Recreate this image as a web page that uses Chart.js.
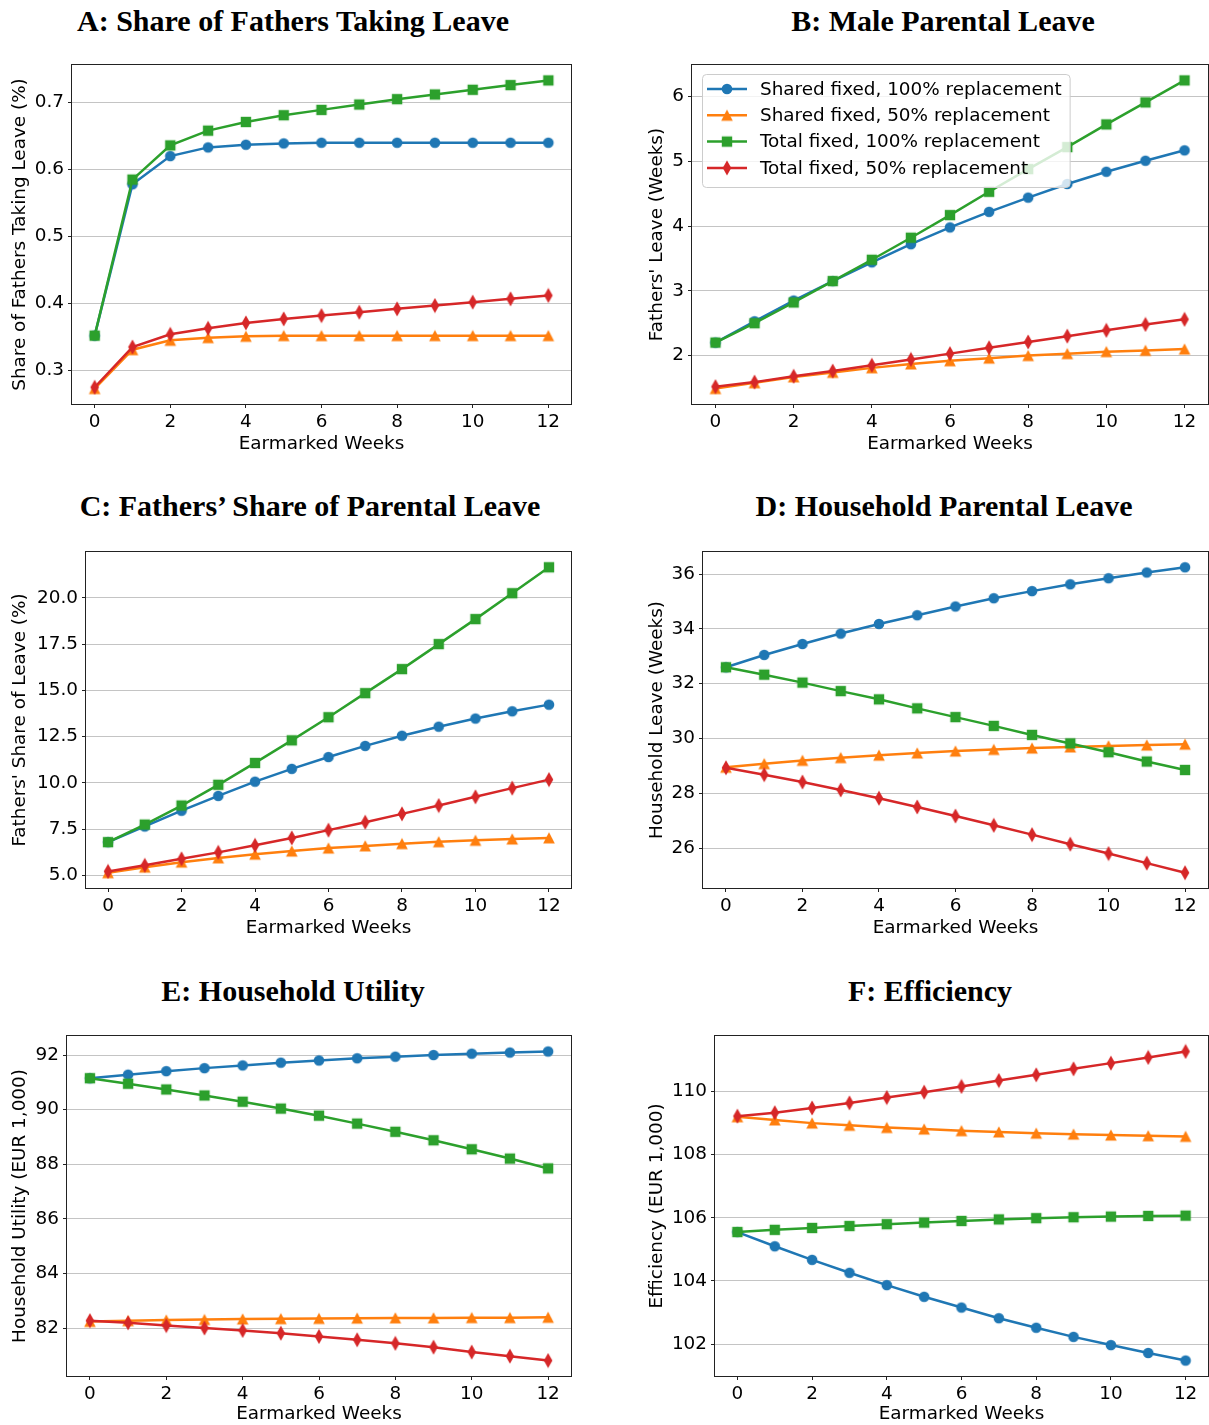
<!DOCTYPE html>
<html>
<head>
<meta charset="utf-8">
<script src="https://cdn.jsdelivr.net/npm/chart.js@4.4.0/dist/chart.umd.min.js"></script>
<style>
  body { margin: 0; background: #fff; width: 1209px; height: 1425px; position: relative; overflow: hidden; }
  canvas { position: absolute; }
  .title { position: absolute; font-family: "Liberation Serif", serif; font-weight: bold; font-size: 30px;
           white-space: nowrap; transform: translate(-50%, -50%); line-height: 1; color: #000; }
</style>
</head>
<body>
<script>
const weeks = [0, 1, 2, 3, 4, 5, 6, 7, 8, 9, 10, 11, 12];
const seriesNames = ["Shared fixed, 100% replacement", "Shared fixed, 50% replacement",
                     "Total fixed, 100% replacement", "Total fixed, 50% replacement"];
const xTicks = [0, 2, 4, 6, 8, 10, 12];

// A: share of fathers taking leave
const takeShared100 = [0.352, 0.578, 0.620, 0.633, 0.637, 0.639, 0.640, 0.640, 0.640, 0.640, 0.640, 0.640, 0.640];
const takeShared50  = [0.273, 0.331, 0.345, 0.349, 0.351, 0.352, 0.352, 0.352, 0.352, 0.352, 0.352, 0.352, 0.352];
const takeTotal100  = [0.352, 0.585, 0.636, 0.658, 0.671, 0.681, 0.689, 0.697, 0.705, 0.712, 0.719, 0.726, 0.733];
const takeTotal50   = [0.275, 0.335, 0.354, 0.363, 0.371, 0.377, 0.382, 0.387, 0.392, 0.397, 0.402, 0.407, 0.412];

// B: fathers' leave in weeks
const leaveShared100 = [2.20, 2.53, 2.85, 3.15, 3.44, 3.72, 3.98, 4.22, 4.44, 4.65, 4.84, 5.01, 5.17];
const leaveShared50  = [1.49, 1.58, 1.67, 1.74, 1.81, 1.87, 1.92, 1.96, 2.00, 2.03, 2.06, 2.08, 2.10];
const leaveTotal100  = [2.20, 2.50, 2.82, 3.15, 3.48, 3.82, 4.17, 4.53, 4.88, 5.22, 5.57, 5.91, 6.25];
const leaveTotal50   = [1.52, 1.59, 1.68, 1.76, 1.85, 1.94, 2.03, 2.12, 2.21, 2.30, 2.39, 2.48, 2.56];

// C: fathers' share of leave (%)
const shareShared100 = [6.80, 7.65, 8.50, 9.30, 10.07, 10.76, 11.40, 12.00, 12.55, 13.04, 13.48, 13.87, 14.23];
const shareShared50  = [5.15, 5.45, 5.72, 5.95, 6.15, 6.32, 6.48, 6.60, 6.72, 6.82, 6.90, 6.97, 7.03];
const shareTotal100  = [6.80, 7.75, 8.78, 9.90, 11.08, 12.30, 13.55, 14.85, 16.15, 17.50, 18.85, 20.25, 21.65];
const shareTotal50   = [5.22, 5.55, 5.90, 6.25, 6.63, 7.03, 7.45, 7.88, 8.33, 8.78, 9.25, 9.72, 10.18];

// D: household leave in weeks
const hhShared100 = [32.60, 33.05, 33.45, 33.83, 34.18, 34.50, 34.82, 35.12, 35.38, 35.63, 35.85, 36.06, 36.25];
const hhShared50  = [28.95, 29.08, 29.20, 29.30, 29.39, 29.47, 29.54, 29.60, 29.65, 29.69, 29.73, 29.76, 29.79];
const hhTotal100  = [32.60, 32.33, 32.04, 31.73, 31.43, 31.10, 30.78, 30.46, 30.13, 29.82, 29.50, 29.16, 28.85];
const hhTotal50   = [28.93, 28.68, 28.41, 28.12, 27.82, 27.50, 27.17, 26.83, 26.49, 26.14, 25.80, 25.45, 25.10];

// E: household utility (EUR 1,000)
const utilShared100 = [91.15, 91.28, 91.41, 91.52, 91.62, 91.72, 91.80, 91.88, 91.94, 92.00, 92.05, 92.09, 92.13];
const utilShared50  = [82.25, 82.28, 82.30, 82.32, 82.34, 82.35, 82.36, 82.37, 82.38, 82.38, 82.39, 82.39, 82.40];
const utilTotal100  = [91.15, 90.95, 90.74, 90.52, 90.29, 90.04, 89.78, 89.49, 89.19, 88.88, 88.55, 88.21, 87.85];
const utilTotal50   = [82.28, 82.20, 82.10, 82.01, 81.92, 81.82, 81.70, 81.58, 81.45, 81.31, 81.13, 80.98, 80.82];

// F: efficiency (EUR 1,000)
const effShared100 = [105.55, 105.10, 104.67, 104.26, 103.87, 103.50, 103.16, 102.82, 102.52, 102.23, 101.97, 101.72, 101.48];
const effShared50  = [109.20, 109.10, 109.00, 108.93, 108.86, 108.81, 108.76, 108.72, 108.68, 108.65, 108.62, 108.60, 108.58];
const effTotal100  = [105.55, 105.62, 105.68, 105.74, 105.80, 105.85, 105.90, 105.95, 105.99, 106.02, 106.04, 106.06, 106.07];
const effTotal50   = [109.22, 109.33, 109.48, 109.64, 109.81, 109.98, 110.16, 110.35, 110.53, 110.72, 110.90, 111.08, 111.27];

const colors = ["#1f77b4", "#ff7f0e", "#2ca02c", "#d62728"];
const markerKinds = ["circle", "triangle", "square", "thinDiamond"];
const fontPx = 18.4;

// matplotlib-like markers as small canvases
function makeMarker(kind, color) {
  const c = document.createElement("canvas");
  c.width = 16; c.height = 16;
  const g = c.getContext("2d");
  g.fillStyle = color;
  g.beginPath();
  if (kind === "circle") g.arc(8, 8, 5.3, 0, Math.PI * 2);
  else if (kind === "square") g.rect(2.8, 2.8, 10.4, 10.4);
  else if (kind === "triangle") { g.moveTo(8, 2.2); g.lineTo(13.8, 13.6); g.lineTo(2.2, 13.6); g.closePath(); }
  else { g.moveTo(8, 0.6); g.lineTo(12.3, 8); g.lineTo(8, 15.4); g.lineTo(3.7, 8); g.closePath(); }
  g.fill();
  return c;
}
const markers = markerKinds.map((k, i) => makeMarker(k, colors[i]));

Chart.defaults.font.family = "'DejaVu Sans', sans-serif";
Chart.defaults.font.size = fontPx;
Chart.defaults.color = "#000";

// box around the plot area (all four spines)
const frame = {
  id: "frame",
  afterDraw(chart) {
    const { ctx, chartArea: a } = chart;
    ctx.save();
    ctx.strokeStyle = "#222";
    ctx.lineWidth = 1;
    ctx.strokeRect(a.left - 0.5, a.top - 0.5, a.right - a.left + 1, a.bottom - a.top + 1);
    ctx.restore();
  }
};

// legend box drawn inside the plot area, like matplotlib
const innerLegend = {
  id: "innerLegend",
  afterDraw(chart, args, opts) {
    if (!opts.show) return;
    const { ctx, chartArea: a } = chart;
    const sets = chart.data.datasets;
    ctx.save();
    ctx.font = fontPx + "px 'DejaVu Sans'";
    const textW = Math.max(...sets.map(d => ctx.measureText(d.label).width));
    const x0 = a.left + 10, y0 = a.top + 9;
    const w = 58 + textW + 8, h = 113, r = 4;
    ctx.beginPath();
    ctx.roundRect(x0 + 0.5, y0 + 0.5, w, h, r);
    ctx.fillStyle = "rgba(255,255,255,0.8)";
    ctx.fill();
    ctx.strokeStyle = "#cccccc";
    ctx.lineWidth = 1;
    ctx.stroke();
    sets.forEach((d, i) => {
      const cy = y0 + 15 + i * 26.3;
      ctx.strokeStyle = d.borderColor;
      ctx.lineWidth = 2.5;
      ctx.beginPath();
      ctx.moveTo(x0 + 5, cy);
      ctx.lineTo(x0 + 45, cy);
      ctx.stroke();
      ctx.drawImage(d.pointStyle, x0 + 25 - 8, cy - 8);
      ctx.fillStyle = "#000";
      ctx.textBaseline = "middle";
      ctx.fillText(d.label, x0 + 58, cy + 1);
    });
    ctx.restore();
  }
};

const panels = [
  { title: "A: Share of Fathers Taking Leave", yLabel: "Share of Fathers Taking Leave (%)",
    series: [takeShared100, takeShared50, takeTotal100, takeTotal50], step: 0.1, dec: 1,
    left: 9, top: 45, bottom: 455, plotLeft: 72, plotTop: 65, plotRight: 571, plotBottom: 404,
    titleX: 293, titleY: 21 },
  { title: "B: Male Parental Leave", yLabel: "Fathers' Leave (Weeks)",
    series: [leaveShared100, leaveShared50, leaveTotal100, leaveTotal50], step: 1, dec: 0, legend: true,
    left: 646, top: 45, bottom: 455, plotLeft: 692, plotTop: 65, plotRight: 1208, plotBottom: 404,
    titleX: 943, titleY: 21 },
  { title: "C: Fathers\u2019 Share of Parental Leave", yLabel: "Fathers' Share of Leave (%)",
    series: [shareShared100, shareShared50, shareTotal100, shareTotal50], step: 2.5, dec: 1,
    left: 9, top: 532, bottom: 939, plotLeft: 86, plotTop: 552, plotRight: 571, plotBottom: 888,
    titleX: 310, titleY: 506 },
  { title: "D: Household Parental Leave", yLabel: "Household Leave (Weeks)",
    series: [hhShared100, hhShared50, hhTotal100, hhTotal50], step: 2, dec: 0,
    left: 646, top: 532, bottom: 939, plotLeft: 703, plotTop: 552, plotRight: 1208, plotBottom: 888,
    titleX: 944, titleY: 506 },
  { title: "E: Household Utility", yLabel: "Household Utility (EUR 1,000)",
    series: [utilShared100, utilShared50, utilTotal100, utilTotal50], step: 2, dec: 0,
    left: 9, top: 1016, bottom: 1425, plotLeft: 67, plotTop: 1036, plotRight: 571, plotBottom: 1376,
    titleX: 293, titleY: 991 },
  { title: "F: Efficiency", yLabel: "Efficiency (EUR 1,000)",
    series: [effShared100, effShared50, effTotal100, effTotal50], step: 2, dec: 0,
    left: 646, top: 1016, bottom: 1425, plotLeft: 715, plotTop: 1036, plotRight: 1208, plotBottom: 1376,
    titleX: 930, titleY: 991 }
];

const rightRoom = 12; // spare canvas to the right of the plot box

panels.forEach(p => {
  const t = document.createElement("div");
  t.className = "title";
  t.textContent = p.title;
  t.style.left = p.titleX + "px";
  t.style.top = p.titleY + "px";
  document.body.appendChild(t);

  const cv = document.createElement("canvas");
  cv.width = p.plotRight + rightRoom - p.left;
  cv.height = p.bottom - p.top;
  cv.style.left = p.left + "px";
  cv.style.top = p.top + "px";
  document.body.appendChild(cv);

  // matplotlib autoscale: data range plus 5% margins
  const all = p.series.flat();
  const lo = Math.min(...all), hi = Math.max(...all), m = (hi - lo) * 0.05;

  new Chart(cv, {
    type: "line",
    data: {
      datasets: p.series.map((s, i) => ({
        label: seriesNames[i],
        data: s.map((v, j) => ({ x: weeks[j], y: v })),
        borderColor: colors[i],
        backgroundColor: colors[i],
        borderWidth: 2.5,
        pointStyle: markers[i],
        pointRadius: 5,
        tension: 0,
        order: 3 - i
      }))
    },
    options: {
      responsive: false,
      animation: false,
      devicePixelRatio: 1,
      events: [],
      layout: { padding: { top: p.plotTop - p.top, right: rightRoom, left: 0, bottom: 0 } },
      plugins: {
        legend: { display: false },
        tooltip: { enabled: false },
        innerLegend: { show: !!p.legend }
      },
      scales: {
        x: {
          type: "linear",
          min: weeks[0] - 0.6,
          max: weeks[weeks.length - 1] + 0.6,
          afterFit: s => { s.height = p.bottom - p.plotBottom; s.paddingLeft = 0; s.paddingRight = 0; },
          afterBuildTicks: s => { s.ticks = xTicks.map(v => ({ value: v })); },
          ticks: { padding: 3, maxRotation: 0, autoSkip: false, callback: v => String(v) },
          grid: { drawOnChartArea: false, tickLength: 4, tickColor: "#222", color: "#222" },
          border: { display: false },
          title: { display: true, text: "Earmarked Weeks", padding: 0 }
        },
        y: {
          min: lo - m,
          max: hi + m,
          afterFit: s => { s.width = p.plotLeft - p.left; s.paddingTop = 0; s.paddingBottom = 0; },
          ticks: { stepSize: p.step, includeBounds: false, padding: 4, callback: v => Number(v).toFixed(p.dec) },
          grid: { color: "#c4c4c4", lineWidth: 1, tickLength: 4, tickColor: "#222" },
          border: { display: false },
          title: { display: true, text: p.yLabel, padding: 0 }
        }
      }
    },
    plugins: [frame, innerLegend]
  });
});
</script>
</body>
</html>
